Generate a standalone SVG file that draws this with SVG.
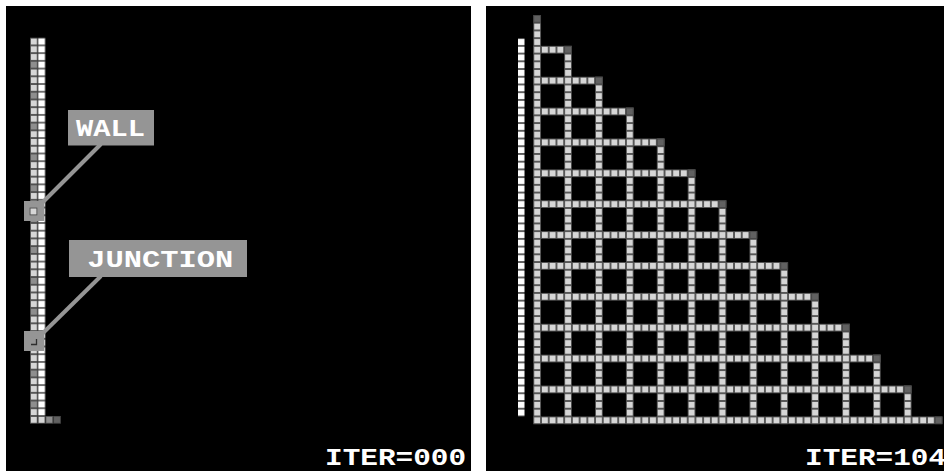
<svg xmlns="http://www.w3.org/2000/svg" xmlns:xlink="http://www.w3.org/1999/xlink" width="944" height="471" viewBox="0 0 944 471">
<style>
.panel{fill:#000}
.callbox{fill:#959595}
.callline{stroke:#959595;stroke-width:4;fill:none}
.lbl{font-family:"Liberation Mono","DejaVu Sans Mono",monospace;font-weight:bold;font-size:24px;fill:#fff}
</style>
<defs>
<pattern id="pL" patternUnits="userSpaceOnUse" x="30" y="37.7" width="7.72" height="7.72"><rect width="7.72" height="7.72" fill="#4e4e4e"/><rect x="0.9" y="0.9" width="5.92" height="5.92" fill="#d6d6d6"/></pattern>
<pattern id="pW" patternUnits="userSpaceOnUse" x="30" y="37.7" width="7.72" height="7.72"><rect width="7.72" height="7.72" fill="#3c3c3c"/><rect x="0.5" y="0.7" width="6.7" height="6.3" fill="#ffffff"/></pattern>
<pattern id="pR" patternUnits="userSpaceOnUse" x="533.3" y="15" width="7.72" height="7.72"><rect width="7.72" height="7.72" fill="#4e4e4e"/><rect x="0.9" y="0.9" width="5.92" height="5.92" fill="#d6d6d6"/></pattern>
<pattern id="pRW" patternUnits="userSpaceOnUse" x="518" y="15" width="7.72" height="7.72"><rect x="0" y="0.6" width="6.7" height="6.5" fill="#ffffff"/></pattern>
<g id="cellLight"><rect width="7.72" height="7.72" fill="#4e4e4e"/><rect x="0.9" y="0.9" width="5.92" height="5.92" fill="#d6d6d6"/></g>
<g id="cellMid"><rect width="7.72" height="7.72" fill="#4e4e4e"/><rect x="0.9" y="0.9" width="5.92" height="5.92" fill="#8e8e8e"/></g>
<g id="cellDark"><rect width="7.72" height="7.72" fill="#454545"/><rect x="0.9" y="0.9" width="5.92" height="5.92" fill="#616161"/></g>
</defs>
<rect width="944" height="471" fill="#fff"/>

<g id="panel-left">
<rect class="panel" x="6" y="6" width="465" height="465"/>
<rect x="30" y="37.7" width="7.72" height="386" fill="url(#pL)"/>
<rect x="37.72" y="37.7" width="7.72" height="378.28" fill="url(#pW)"/>
<use href="#cellLight" x="37.72" y="415.98"/>
<use href="#cellMid" x="45.44" y="415.98"/>
<use href="#cellDark" x="53.16" y="415.98"/>
<use href="#cellMid" x="30" y="60.86"/>
<use href="#cellMid" x="30" y="91.74"/>
<use href="#cellMid" x="30" y="122.62"/>
<use href="#cellMid" x="30" y="153.5"/>
<use href="#cellMid" x="30" y="184.38"/>
<use href="#cellMid" x="30" y="215.26"/>
<use href="#cellMid" x="30" y="246.14"/>
<use href="#cellMid" x="30" y="277.02"/>
<use href="#cellMid" x="30" y="307.9"/>
<use href="#cellMid" x="30" y="338.78"/>
<use href="#cellMid" x="30" y="369.66"/>
<use href="#cellMid" x="30" y="400.54"/>
<text class="lbl" x="325" y="465" textLength="141" lengthAdjust="spacingAndGlyphs">ITER=000</text>
</g>

<g id="connectors">
<line class="callline" x1="42" y1="203" x2="101" y2="144"/>
<line class="callline" x1="42" y1="334" x2="101" y2="276"/>
</g>

<g id="wall-marker">
<rect class="callbox" x="24" y="201" width="20" height="20"/>
<use href="#cellLight" x="29.6" y="207.6"/>
</g>
<g id="junction-marker">
<rect class="callbox" x="24" y="331" width="20" height="20"/>
<path d="M36.5 339V344.5H31" fill="none" stroke="#2e2e2e" stroke-width="1.3"/>
</g>
<g id="wall-label">
<rect class="callbox" x="68" y="110" width="86" height="35.5"/>
<text class="lbl" x="110.5" y="135.7" text-anchor="middle" textLength="69" lengthAdjust="spacingAndGlyphs">WALL</text>
</g>
<g id="junction-label">
<rect class="callbox" x="69" y="240" width="178" height="37"/>
<text class="lbl" x="160.2" y="266.5" text-anchor="middle" textLength="146" lengthAdjust="spacingAndGlyphs">JUNCTION</text>
</g>

<g id="panel-right">
<rect class="panel" x="486" y="6" width="458" height="465"/>
<rect x="518" y="38.16" width="6.7" height="378.28" fill="url(#pRW)"/>
<rect x="533.3" y="15" width="7.72" height="409.16" fill="url(#pR)"/>
<rect x="533.3" y="45.88" width="38.6" height="7.72" fill="url(#pR)"/>
<rect x="533.3" y="76.76" width="69.48" height="7.72" fill="url(#pR)"/>
<rect x="533.3" y="107.64" width="100.36" height="7.72" fill="url(#pR)"/>
<rect x="533.3" y="138.52" width="131.24" height="7.72" fill="url(#pR)"/>
<rect x="533.3" y="169.4" width="162.12" height="7.72" fill="url(#pR)"/>
<rect x="533.3" y="200.28" width="193" height="7.72" fill="url(#pR)"/>
<rect x="533.3" y="231.16" width="223.88" height="7.72" fill="url(#pR)"/>
<rect x="533.3" y="262.04" width="254.76" height="7.72" fill="url(#pR)"/>
<rect x="533.3" y="292.92" width="285.64" height="7.72" fill="url(#pR)"/>
<rect x="533.3" y="323.8" width="316.52" height="7.72" fill="url(#pR)"/>
<rect x="533.3" y="354.68" width="347.4" height="7.72" fill="url(#pR)"/>
<rect x="533.3" y="385.56" width="378.28" height="7.72" fill="url(#pR)"/>
<rect x="533.3" y="416.44" width="409.16" height="7.72" fill="url(#pR)"/>
<rect x="564.18" y="45.88" width="7.72" height="378.28" fill="url(#pR)"/>
<rect x="595.06" y="76.76" width="7.72" height="347.4" fill="url(#pR)"/>
<rect x="625.94" y="107.64" width="7.72" height="316.52" fill="url(#pR)"/>
<rect x="656.82" y="138.52" width="7.72" height="285.64" fill="url(#pR)"/>
<rect x="687.7" y="169.4" width="7.72" height="254.76" fill="url(#pR)"/>
<rect x="718.58" y="200.28" width="7.72" height="223.88" fill="url(#pR)"/>
<rect x="749.46" y="231.16" width="7.72" height="193" fill="url(#pR)"/>
<rect x="780.34" y="262.04" width="7.72" height="162.12" fill="url(#pR)"/>
<rect x="811.22" y="292.92" width="7.72" height="131.24" fill="url(#pR)"/>
<rect x="842.1" y="323.8" width="7.72" height="100.36" fill="url(#pR)"/>
<rect x="872.98" y="354.68" width="7.72" height="69.48" fill="url(#pR)"/>
<rect x="903.86" y="385.56" width="7.72" height="38.6" fill="url(#pR)"/>
<use href="#cellDark" x="533.3" y="15"/>
<use href="#cellDark" x="564.18" y="45.88"/>
<use href="#cellDark" x="595.06" y="76.76"/>
<use href="#cellDark" x="625.94" y="107.64"/>
<use href="#cellDark" x="656.82" y="138.52"/>
<use href="#cellDark" x="687.7" y="169.4"/>
<use href="#cellDark" x="718.58" y="200.28"/>
<use href="#cellDark" x="749.46" y="231.16"/>
<use href="#cellDark" x="780.34" y="262.04"/>
<use href="#cellDark" x="811.22" y="292.92"/>
<use href="#cellDark" x="842.1" y="323.8"/>
<use href="#cellDark" x="872.98" y="354.68"/>
<use href="#cellDark" x="903.86" y="385.56"/>
<use href="#cellDark" x="934.74" y="416.44"/>
<text class="lbl" x="805" y="465" textLength="141" lengthAdjust="spacingAndGlyphs">ITER=104</text>
</g>
</svg>
